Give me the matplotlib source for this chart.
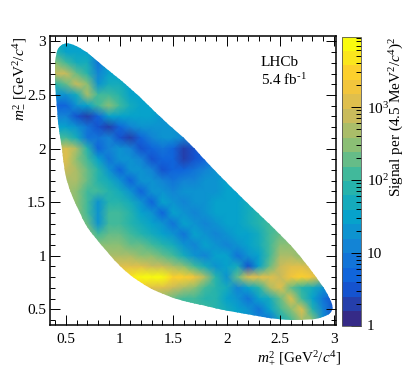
import numpy as np
import matplotlib
matplotlib.use("Agg")
import matplotlib.pyplot as plt
from matplotlib.cm import ScalarMappable
from matplotlib.colors import LinearSegmentedColormap, BoundaryNorm
from matplotlib.patches import PathPatch
from matplotlib.path import Path
from matplotlib.ticker import FixedLocator, NullFormatter

plt.rcParams['font.family'] = ['Liberation Serif']
plt.rcParams['mathtext.fontset'] = 'custom'
plt.rcParams['mathtext.rm'] = 'Liberation Serif'
plt.rcParams['mathtext.it'] = 'Liberation Serif:italic'
plt.rcParams['mathtext.bf'] = 'Liberation Serif:bold'

m_plus = [0.4, 0.5, 0.6, 0.7, 0.8, 0.9, 1.0, 1.1, 1.2, 1.3, 1.4, 1.5, 1.6, 1.7,
          1.8, 1.9, 2.0, 2.1, 2.2, 2.3, 2.4, 2.5, 2.6, 2.7, 2.8, 2.9, 3.0]
m_minus = [3.0, 2.9, 2.8, 2.7, 2.6, 2.5, 2.4, 2.3, 2.2, 2.1, 2.0, 1.9, 1.8, 1.7,
           1.6, 1.5, 1.4, 1.3, 1.2, 1.1, 1.0, 0.9, 0.8, 0.7, 0.6, 0.5, 0.4]

# ten times log10(signal per bin), one row per m_minus value
log_signal = [
 [16,14,14,14,12,13,14,14,14,14,14,14,14,14,14,14,14,14,14,14,14,14,14,14,14,14,14],
 [18,14,14,14,12,14,14,14,14,14,14,14,14,14,14,14,14,14,14,14,14,14,14,14,14,14,14],
 [24,20,16,16, 9,14,14,14,14,14,14,14,14,14,14,14,14,14,14,14,14,14,14,14,14,14,14],
 [28,28,22,18,10,15,15,15,15,15,15,15,15,15,15,15,15,15,15,15,15,15,15,15,15,15,15],
 [18,22,28,24,12,16,16,15,15,15,15,15,15,15,15,15,15,15,15,15,15,15,15,15,15,15,15],
 [12,13,17,26,20,21,18,15,14,14,14,14,14,14,14,14,14,14,14,14,14,14,14,14,14,14,14],
 [ 6, 7,12,15,21,24,20,16,14,14,14,14,14,14,14,14,14,14,14,14,14,14,14,14,14,14,14],
 [11,10, 4, 3, 7,14,15,14,14,14,13,13,13,13,13,13,13,13,13,13,13,13,13,13,13,13,13],
 [15,14,12, 9, 4, 3, 6,11,13,13,13,12,12,11,11,11,11,11,11,11,11,11,11,11,11,11,11],
 [20,20,16, 8, 9,10, 4, 3, 6,11,12,12,10,10,10,10,10,10,10,10,10,10,10,10,10,10,10],
 [26,30,26,18, 7,10,12,11, 4, 7, 9, 6, 3, 4, 7, 8, 8, 8, 8, 8, 8, 8, 8, 8, 8, 8, 8],
 [28,31,25,20,15, 8,12,12,11, 4, 7, 6, 3, 4, 7,10,10,10,10,10,10,10,10,10,10,10,10],
 [28,29,26,23,18,13, 7,13,12,11, 5, 7, 7, 8,10,12,12,12,12,12,12,12,12,12,12,12,12],
 [27,27,26,22,19,16,13, 7,13,12,11, 8,10,11,12,13,14,14,14,14,14,14,14,14,14,14,14],
 [26,26,24,20,20,18,16,13, 7,13,13,10,12,12,13,13,14,15,15,15,15,15,15,15,15,15,15],
 [26,26,25,20,13,19,19,16,13, 7,14,13,11,13,13,14,14,15,17,17,17,17,17,17,17,17,17],
 [25,25,25,21,13,20,20,18,15,12, 7,14,12,10,13,14,14,15,16,19,19,19,19,19,19,19,19],
 [24,24,24,23,13,20,20,19,17,15,12, 8,14,13,11,13,14,15,16,18,20,20,20,20,20,20,20],
 [24,24,24,24,20,22,22,20,18,17,15,12, 9,14,13,11,13,14,15,17,20,23,23,23,23,23,23],
 [24,24,24,24,24,25,24,23,22,20,18,16,12,10,14,13,10,13,14,16,20,25,25,25,25,25,25],
 [27,27,27,27,27,27,26,26,25,24,22,20,17,13,11,14,14, 9,12,15,20,26,27,25,25,25,25],
 [30,30,30,30,30,30,30,30,30,29,28,27,25,21,16,12,15,16, 4,14,22,29,30,31,28,28,28],
 [36,36,36,36,36,36,36,36,38,39,38,35,34,32,26,18,12,22,30,30,31,28,33,35,33,26,26],
 [32,32,32,32,32,32,32,32,32,31,30,28,26,24,20,18,16,11,15,19,26,30,22,18,16,13,13],
 [24,24,24,24,24,24,24,24,24,24,24,22,21,20,19,18,15,13, 8,14,17,22,30,20,15, 8, 5],
 [20,20,20,20,20,20,20,20,20,20,20,20,20,20,20,18,16,15,13, 8,14,20,24,30,18,10, 4],
 [16,16,16,16,16,16,16,16,16,16,16,16,16,16,16,16,16,14,12,10, 8,16,20,26,24,12, 5],
]

boundary_x = [0.52, 0.66, 0.786, 1.097, 1.41, 1.657, 1.885, 2.18, 2.49, 2.74, 2.87, 2.96, 3.0,
              2.9, 2.74, 2.49, 2.18, 1.87, 1.66, 1.41, 1.19, 0.986, 0.83, 0.69, 0.584, 0.512,
              0.475, 0.444, 0.413, 0.395, 0.395, 0.405, 0.444]
boundary_y = [2.99, 2.93, 2.82, 2.575, 2.26, 2.05, 1.797, 1.50, 1.21, 0.93, 0.757, 0.605, 0.49,
              0.423, 0.404, 0.404, 0.455, 0.512, 0.56, 0.633, 0.743, 0.913, 1.10, 1.27, 1.49, 1.675,
              1.89, 2.11, 2.39, 2.575, 2.73, 2.89, 2.97]

bird_stops = ['#352a87', '#0f5bdd', '#1480d6', '#06a4ca', '#2eb7a4', '#87bf77',
              '#d1bb59', '#fec832', '#f9fb0e']
n_levels = 20
z_top = 39.7

W, H = 415, 370
fig = plt.figure(figsize=(W / 100, H / 100), dpi=100)
ax = fig.add_axes([49.5 / W, (H - 325) / H, 286.5 / W, 289 / H])
cax = fig.add_axes([341.7 / W, (H - 325.5) / H, 19.3 / W, 289 / H])

cmap = LinearSegmentedColormap.from_list('bird', bird_stops, N=n_levels)
levels = np.linspace(0, z_top, n_levels + 1) / 10.0
norm = BoundaryNorm(levels, n_levels)
mesh = ax.pcolormesh(m_plus, m_minus, np.array(log_signal) / 10.0, shading='gouraud',
                     cmap=cmap, norm=norm, rasterized=True)

ctrl = np.column_stack([boundary_x, boundary_y])
mids = 0.5 * (ctrl + np.roll(ctrl, -1, axis=0))
verts = [mids[-1]]
codes = [Path.MOVETO]
for c, m in zip(ctrl, mids):
    verts += [c, m]
    codes += [Path.CURVE3, Path.CURVE3]
clip = PathPatch(Path(verts, codes), transform=ax.transData, facecolor='none', edgecolor='none')
ax.add_patch(clip)
mesh.set_clip_path(clip)

ax.set_xlim(0.346, 3.02)
ax.set_ylim(0.354, 3.05)
ax.set_xticks([0.5, 1, 1.5, 2, 2.5, 3])
ax.set_xticklabels(['0.5', '1', '1.5', '2', '2.5', '3'])
ax.set_yticks([0.5, 1, 1.5, 2, 2.5, 3])
ax.set_yticklabels(['0.5', '1', '1.5', '2', '2.5', '3'])
minor = np.arange(0.4, 3.05, 0.1)
ax.xaxis.set_minor_locator(FixedLocator(minor))
ax.yaxis.set_minor_locator(FixedLocator(minor))
ax.tick_params(which='major', direction='in', top=True, right=True, length=7.2, width=0.7,
               labelsize=11, pad=2.5)
ax.tick_params(axis='x', which='major', pad=6)
ax.tick_params(which='minor', direction='in', top=True, right=True, length=3.6, width=0.7)
for s in ax.spines.values():
    s.set_linewidth(1.1)
fig.text(341 / W, (H - 358) / H, r'$m_{+}^{2}$ [GeV$^{2}$/$c^{4}$]', fontsize=11, ha='right', va='center')
fig.text(20 / W, (H - 37) / H, r'$m_{-}^{2}$ [GeV$^{2}$/$c^{4}$]', fontsize=11, rotation=90,
         ha='center', va='top')
fig.text(261 / W, (H - 62) / H, 'LHCb', fontsize=11, va='center')
fig.text(261 / W, (H - 80) / H, '5.4 fb$^{\\text{-1}}$', fontsize=11, va='center')

cb = fig.colorbar(ScalarMappable(norm=norm, cmap=cmap), cax=cax, spacing='proportional',
                  drawedges=False)
cb.outline.set_linewidth(0.6)
cb.outline.set_edgecolor('#555555')
cax.yaxis.set_ticks_position('right')
cax.set_yticks([0, 1, 2, 3])
cax.set_yticklabels(['1', '10', '$\\mathregular{10^{2}}$', '$\\mathregular{10^{3}}$'])
minor_cb = [np.log10(m * d) for d in (1, 10, 100, 1000) for m in range(2, 10)
            if m * d < 10 ** (z_top / 10.0)]
cax.yaxis.set_minor_locator(FixedLocator(minor_cb))
cax.yaxis.set_minor_formatter(NullFormatter())
cax.tick_params(which='major', direction='in', length=7, width=0.7, labelsize=11, pad=4, right=True)
cax.tick_params(which='minor', direction='in', length=3.5, width=0.7, right=True)
fig.text(397 / W, (H - 37) / H, 'Signal per (4.5 MeV$^{2}$/$c^{4}$)$^{2}$', fontsize=11, rotation=90,
         ha='center', va='top')

fig.savefig('out.png', dpi=100)
